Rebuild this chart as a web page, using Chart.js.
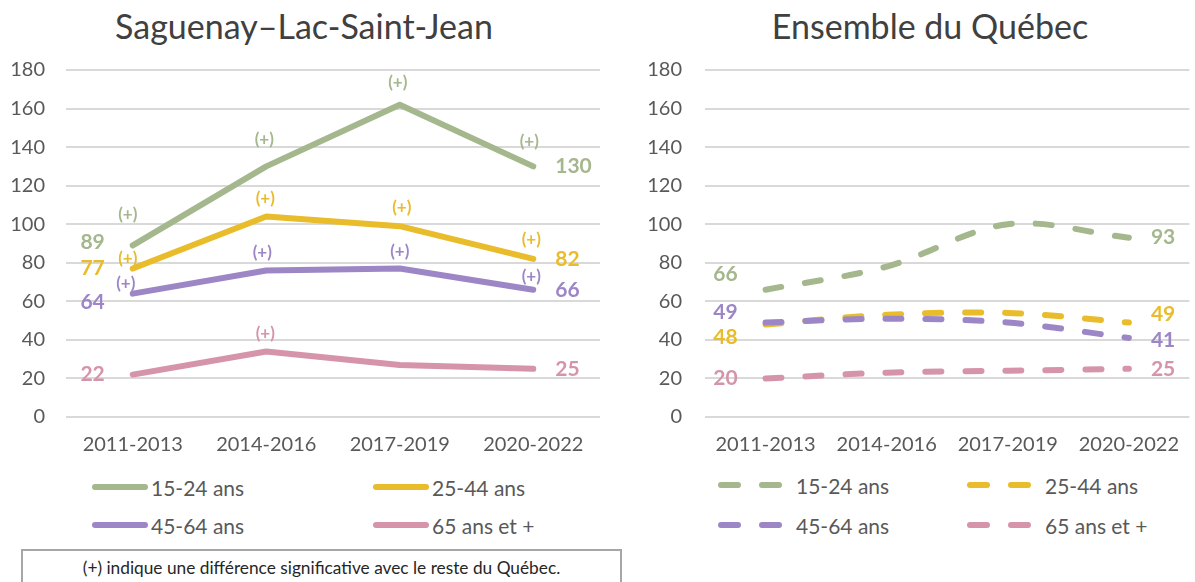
<!DOCTYPE html>
<html>
<head>
<meta charset="utf-8">
<script src="https://cdn.jsdelivr.net/npm/chart.js@4"></script>
<style>
  html,body{margin:0;padding:0;background:#fff;}
  #wrap{position:relative;width:1195px;height:582px;overflow:hidden;background:#fff;font-family:Lato,"Noto Sans",sans-serif;}
  .title{position:absolute;text-align:center;font-size:34px;color:#404040;white-space:nowrap;}
  .cbox{position:absolute;top:0;height:462px;}
  .leg{position:absolute;display:flex;align-items:center;font-size:21px;color:#595959;white-space:nowrap;}
  .leg svg{display:block;}
  #note{position:absolute;left:21px;top:549px;width:601px;height:60px;border:2px solid #A6A6A6;box-sizing:border-box;}
  #note span{position:absolute;left:0;right:0;top:6px;text-align:center;font-size:17.3px;color:#262626;}
</style>
</head>
<body>
<div id="wrap">
  <div class="title" id="t1" style="left:4px;width:600px;top:5px;"></div>
  <div class="title" id="t2" style="left:630px;width:600px;top:5px;"></div>
  <div class="cbox" style="left:0;width:610px;"><canvas id="c1"></canvas></div>
  <div class="cbox" style="left:620px;width:575px;"><canvas id="c2"></canvas></div>
  <div id="legends"></div>
  <div id="note"><span id="noteText"></span></div>
</div>
<script>
// ---------- DATA ----------
const periods = ['2011-2013', '2014-2016', '2017-2019', '2020-2022'];
const groups = ['15-24 ans', '25-44 ans', '45-64 ans', '65 ans et +'];

const slsj_15_24 = [89, 130, 162, 130];
const slsj_25_44 = [77, 104, 99, 82];
const slsj_45_64 = [64, 76, 77, 66];
const slsj_65plus = [22, 34, 27, 25];

const qc_15_24 = [66, 78, 100, 93];
const qc_25_44 = [48, 53, 54, 49];
const qc_45_64 = [49, 51, 49, 41];
const qc_65plus = [20, 23, 24, 25];

// (+) significant difference flags (Saguenay–Lac-Saint-Jean)
const sig_15_24 = [1, 1, 1, 1];
const sig_25_44 = [1, 1, 1, 1];
const sig_45_64 = [1, 1, 1, 1];
const sig_65plus = [0, 1, 0, 0];

const yMin = 0, yMax = 180, yStep = 20;
const titleLeft = 'Saguenay–Lac-Saint-Jean';
const titleRight = 'Ensemble du Québec';
const sigMark = '(+)';
const footnote = '(+) indique une différence significative avec le reste du Québec.';

// ---------- STYLE ----------
const colors = ['#A4B78D', '#E9BC2B', '#9D86C6', '#D594A9'];
const FONT = 'Lato, "Noto Sans", sans-serif';
const TXT = '#595959';

// label offsets (style only)
const leftStyle = {
  startDy: [-3, 0, 9, 0], endDy: [0, 0, 0, 0],
  sigDx: [[-5, -2, -2, -4], [-5, -1, 2, -2], [-7, -4, 0, -2], [0, -1, 0, 0]],
  sigDy: [[-31, -27, -22, -25], [-10, -18, -19, -19], [-10, -18, -17, -13], [0, -18, 0, 0]]
};
const rightStyle = {
  startDy: [-16, 13, -10, 0], endDy: [0, -8, 2, 0]
};

document.getElementById('t1').textContent = titleLeft;
document.getElementById('t2').textContent = titleRight;
document.getElementById('noteText').textContent = footnote;

const labelPlugin = {
  id: 'valueLabels',
  afterDatasetsDraw(chart, args, opts) {
    const ctx = chart.ctx;
    ctx.save();
    chart.data.datasets.forEach((ds, i) => {
      const pts = chart.getDatasetMeta(i).data;
      const n = pts.length;
      ctx.fillStyle = ds.borderColor;
      ctx.textBaseline = 'middle';
      ctx.font = 'bold 21px ' + FONT;
      ctx.textAlign = 'right';
      ctx.fillText(String(ds.data[0]), pts[0].x - 28, pts[0].y + opts.style.startDy[i]);
      ctx.textAlign = 'left';
      ctx.fillText(String(ds.data[n - 1]), pts[n - 1].x + 22, pts[n - 1].y + opts.style.endDy[i]);
      if (opts.sig) {
        ctx.font = 'bold 17px ' + FONT;
        ctx.textAlign = 'center';
        opts.sig[i].forEach((f, j) => {
          if (!f) return;
          ctx.fillText(sigMark, pts[j].x + opts.style.sigDx[i][j], pts[j].y + opts.style.sigDy[i][j]);
        });
      }
    });
    ctx.restore();
  }
};

function makeChart(id, series, dashed, style, sig, axisW, tickPad, rightPad) {
  const datasets = series.map((d, i) => ({
    label: groups[i],
    data: d,
    borderColor: colors[i],
    backgroundColor: colors[i],
    borderWidth: 6,
    borderCapStyle: 'round',
    borderJoinStyle: 'round',
    borderDash: dashed ? [16, 24] : [],
    tension: dashed ? 0.33 : 0,
    pointRadius: 0,
    pointHoverRadius: 0,
    fill: false,
    order: 3 - i
  }));
  return new Chart(document.getElementById(id), {
    type: 'line',
    data: { labels: periods, datasets },
    plugins: [labelPlugin],
    options: {
      responsive: true,
      maintainAspectRatio: false,
      animation: false,
      layout: { padding: { top: 70, right: rightPad, bottom: 0, left: 0 } },
      plugins: {
        legend: { display: false },
        tooltip: { enabled: false },
        title: { display: false },
        valueLabels: { style, sig }
      },
      scales: {
        x: {
          offset: true,
          grid: { display: false, drawTicks: false },
          border: { display: false },
          ticks: { color: TXT, font: { family: FONT, size: 20 }, padding: 16, maxRotation: 0 },
          afterFit(s) { s.height = 45; }
        },
        y: {
          min: yMin, max: yMax,
          ticks: { stepSize: yStep, color: TXT, font: { family: FONT, size: 20 }, padding: tickPad },
          grid: { color: '#D9D9D9', lineWidth: 2, drawTicks: false },
          border: { display: false },
          afterFit(s) { s.width = axisW; }
        }
      }
    }
  });
}

makeChart('c1', [slsj_15_24, slsj_25_44, slsj_45_64, slsj_65plus], false, leftStyle,
  [sig_15_24, sig_25_44, sig_45_64, sig_65plus], 66, 21, 10);
makeChart('c2', [qc_15_24, qc_25_44, qc_45_64, qc_65plus], true, rightStyle, null, 85, 23, 0);

// ---------- LEGENDS ----------
const legWrap = document.getElementById('legends');
function legendItem(x, y, i, dashed) {
  const d = document.createElement('div');
  d.className = 'leg';
  const w = dashed ? 66 : 56;
  const line = dashed
    ? `<line x1="3" y1="5" x2="${w - 3}" y2="5" stroke="${colors[i]}" stroke-width="6" stroke-linecap="round" stroke-dasharray="17 24"/>`
    : `<line x1="3" y1="5" x2="${w - 3}" y2="5" stroke="${colors[i]}" stroke-width="6" stroke-linecap="round"/>`;
  d.innerHTML = `<svg width="${w}" height="10">${line}</svg><span style="margin-left:${dashed ? 12 : 3}px">${groups[i]}</span>`;
  d.style.left = x + 'px';
  d.style.top = (y - 14) + 'px';
  d.style.height = '28px';
  legWrap.appendChild(d);
}
legendItem(92, 487, 0, false);
legendItem(373, 487, 1, false);
legendItem(92, 525, 2, false);
legendItem(373, 525, 3, false);
legendItem(718, 485, 0, true);
legendItem(967, 485, 1, true);
legendItem(718, 525, 2, true);
legendItem(967, 525, 3, true);
</script>
</body>
</html>
